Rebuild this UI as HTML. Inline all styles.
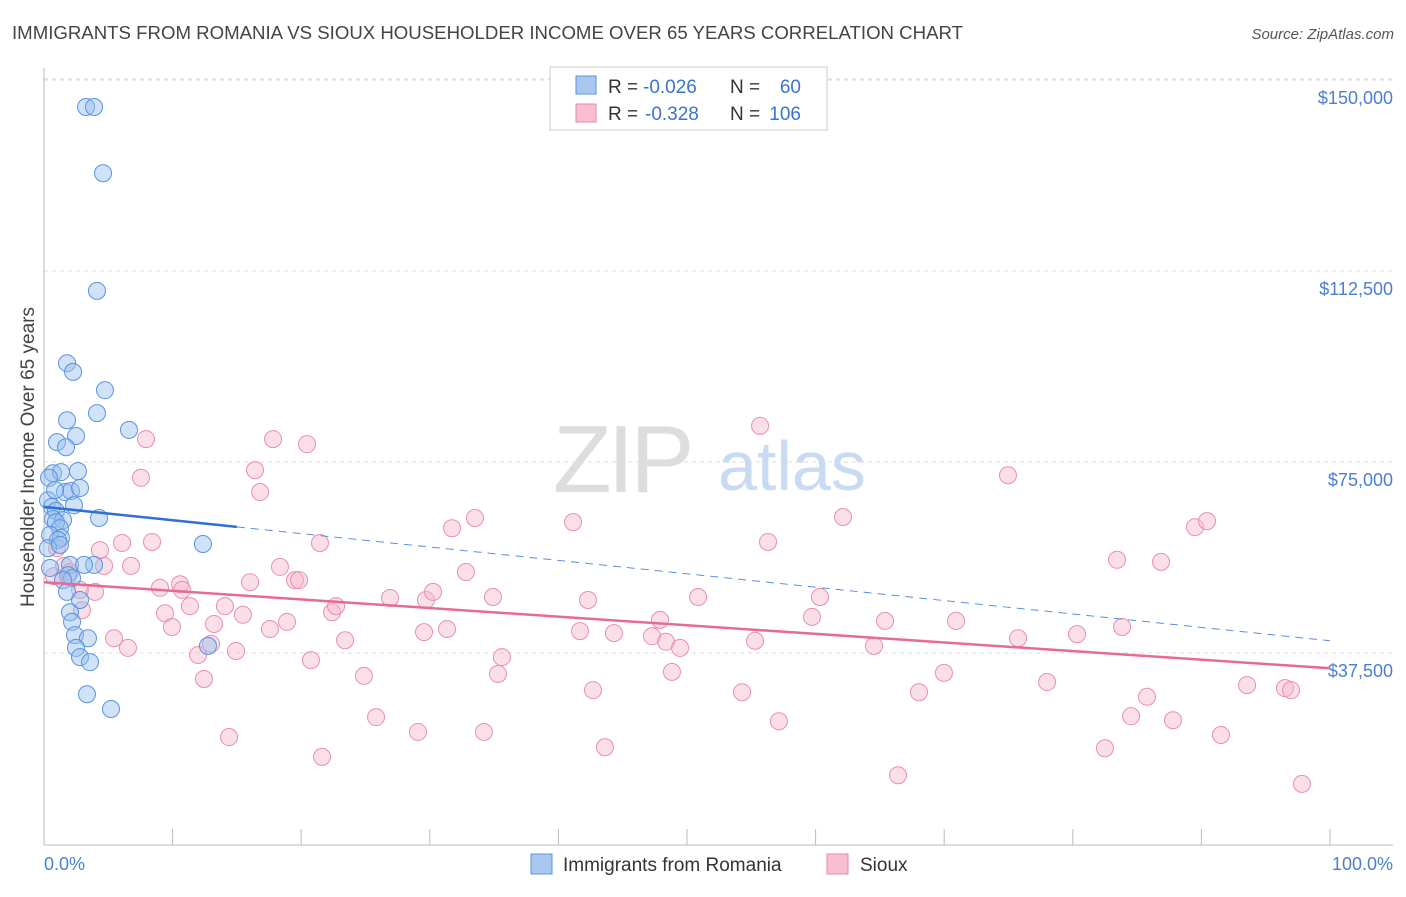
<!DOCTYPE html>
<html><head><meta charset="utf-8">
<style>
body{margin:0;background:#fff;font-family:"Liberation Sans",sans-serif;}
svg text{font-family:"Liberation Sans",sans-serif;}
</style></head>
<body>
<svg id="chart" width="1406" height="892" viewBox="0 0 1406 892" xmlns="http://www.w3.org/2000/svg">
<text x="12" y="39" font-size="18.5" fill="#444" textLength="951" lengthAdjust="spacingAndGlyphs">IMMIGRANTS FROM ROMANIA VS SIOUX HOUSEHOLDER INCOME OVER 65 YEARS CORRELATION CHART</text>
<text x="1394" y="39" font-size="15" fill="#555" text-anchor="end" font-style="italic">Source: ZipAtlas.com</text>
<g id="grid"></g>
<g>
<text x="553" y="492" font-size="96" fill="#ddd" font-family="Liberation Serif" letter-spacing="-4">ZIP</text>
<text x="718" y="490" font-size="70" fill="#c9dbf2">atlas</text>
</g>
<g id="marks"></g>
<text transform="translate(34,457) rotate(-90)" font-size="19" fill="#444" text-anchor="middle">Householder Income Over 65 years</text>
<text x="44" y="870" font-size="18" fill="#4a7fd4">0.0%</text>
<text x="1393" y="870" font-size="18" fill="#4a7fd4" text-anchor="end">100.0%</text>
<g>
<rect x="550" y="67" width="277" height="63" fill="#fff" stroke="#ccc"/>
<rect x="576" y="76" width="20" height="18" fill="#a9c8f0" stroke="#5b93dd"/>
<rect x="576" y="104" width="20" height="18" fill="#f7bfd0" stroke="#e78aa8"/>
<text x="608" y="93" font-size="19" fill="#333">R =</text>
<text x="643" y="93" font-size="19" fill="#3a73cf">-0.026</text>
<text x="730" y="93" font-size="19" fill="#333">N =</text>
<text x="801" y="93" font-size="19" fill="#3a73cf" text-anchor="end">60</text>
<text x="608" y="120" font-size="19" fill="#333">R =</text>
<text x="645" y="120" font-size="19" fill="#3a73cf">-0.328</text>
<text x="730" y="120" font-size="19" fill="#333">N =</text>
<text x="801" y="120" font-size="19" fill="#3a73cf" text-anchor="end">106</text>
</g>
<g>
<rect x="531" y="854" width="21" height="20" fill="#a9c8f0" stroke="#5b93dd"/>
<text x="563" y="871" font-size="19" fill="#333">Immigrants from Romania</text>
<rect x="827" y="854" width="21" height="20" fill="#f7bfd0" stroke="#e78aa8"/>
<text x="860" y="871" font-size="19" fill="#333">Sioux</text>
</g>
</svg>
<script>
const yTicks=[37500,75000,112500,150000];
const yTickLabels=["$37,500","$75,000","$112,500","$150,000"];
const xTicks=[0,10,20,30,40,50,60,70,80,90,100];
const blueX=[3.27,3.89,4.59,4.12,1.79,2.26,4.74,4.12,1.79,2.49,6.61,1.01,1.71,0.70,1.32,2.64,0.39,1.63,0.31,2.10,2.33,0.62,0.93,0.70,1.48,4.28,0.93,1.24,0.47,1.32,1.09,12.36,0.31,0.47,2.02,3.89,3.11,1.87,2.18,1.48,1.79,2.80,2.02,2.18,2.41,3.42,2.49,2.80,3.58,12.75,3.34,5.21,1.24,0.86,2.80];
const blueY=[144.7,144.7,131.7,108.6,94.4,92.7,89.1,84.6,83.2,80.1,81.3,78.9,77.9,72.8,73.0,73.2,71.9,69.1,67.5,69.3,66.5,66.2,65.4,63.8,63.6,64.0,63.2,62.0,60.7,60.1,59.7,58.9,58.1,54.2,54.8,54.8,54.8,52.8,52.2,51.8,49.5,47.9,45.5,43.6,41.0,40.4,38.5,36.7,35.7,38.9,29.4,26.5,58.7,69.5,69.9];
const pinkX=[1.01,0.78,1.56,2.02,2.80,3.97,2.95,4.35,4.67,5.44,6.53,6.07,6.77,7.54,7.93,8.40,9.02,9.41,9.95,10.58,10.73,11.35,11.98,12.44,12.99,13.22,14.07,14.39,14.93,15.47,16.02,16.41,16.80,17.57,17.81,18.35,18.90,19.52,19.83,20.45,20.76,21.46,21.62,22.40,22.71,23.41,24.88,25.82,26.91,29.08,29.55,29.70,30.25,31.34,31.73,32.81,33.51,34.21,34.91,35.30,35.61,41.14,41.68,42.30,42.69,43.62,44.32,47.28,47.90,48.37,48.83,49.46,50.86,54.28,55.29,55.68,56.30,57.15,59.72,60.34,62.13,64.54,65.40,66.41,68.04,70.92,69.98,74.96,75.74,78.00,80.33,82.50,83.44,83.83,84.53,85.77,86.86,87.79,89.50,90.44,91.52,93.55,96.50,96.97,97.82];
const pinkY=[58.1,52.6,54.6,53.4,49.9,49.5,45.9,57.7,54.6,40.4,38.5,59.1,54.6,71.9,79.5,59.3,50.3,45.3,42.6,51.0,49.9,46.7,37.1,32.4,39.3,43.2,46.7,21.0,37.9,45.0,51.4,73.4,69.1,42.2,79.5,54.4,43.6,51.8,51.8,78.5,36.1,59.1,17.1,45.5,46.7,40.0,33.0,24.9,48.3,22.0,41.6,47.9,49.5,42.2,62.0,53.4,64.0,22.0,48.5,33.4,36.7,63.2,41.8,47.9,30.2,19.0,41.4,40.8,44.0,39.7,33.8,38.5,48.5,29.8,39.9,82.1,59.3,24.1,44.6,48.5,64.2,38.9,43.8,13.5,29.8,43.8,33.6,72.4,40.4,31.8,41.2,18.8,55.8,42.6,25.1,28.9,55.4,24.3,62.2,63.4,21.4,31.2,30.6,30.2,11.8];
const blueTrend=[66.2,39.9];
const pinkTrend=[51.4,34.5];
const blueSolidEnd=15;

const NS="http://www.w3.org/2000/svg";
const X0=44,X1=1330,Y0=844,PXK=191/37.5;
function xs(p){return X0+(X1-X0)*p/100;}
function ys(k){return Y0-k*PXK;}
function mk(tag,attrs,parent){const e=document.createElementNS(NS,tag);for(const k in attrs)e.setAttribute(k,attrs[k]);parent.appendChild(e);return e;}
const gridG=document.getElementById('grid'),marksG=document.getElementById('marks');
yTicks.forEach((v,i)=>{
  const y=ys(v/1000);
  const l=mk('line',{x1:X0,x2:1393,y1:y,y2:y,stroke:'#ddd','stroke-dasharray':'4,4'},gridG);
  
  
  const t=mk('text',{x:1393,y:y+24,'font-size':18,fill:'#4a7fd4','text-anchor':'end'},gridG);
  t.textContent=yTickLabels[i];
  
  
});
const topGrid=mk('line',{x1:X0,x2:1393,y1:79,y2:79,stroke:'#ddd','stroke-dasharray':'4,4'},gridG);


const yAxisLine=mk('line',{x1:X0,x2:X0,y1:68,y2:845,stroke:'#bbb'},gridG);


const xAxisLine=mk('line',{x1:X0,x2:1393,y1:845,y2:845,stroke:'#bbb'},gridG);


xTicks.forEach(p=>{
  const t=mk('line',{x1:xs(p),x2:xs(p),y1:829,y2:845,stroke:'#bbb'},gridG);
  
  
});
pinkX.forEach((x,i)=>{
  const c=mk('circle',{cx:xs(x),cy:ys(pinkY[i]),r:8.5,fill:'rgba(247,185,204,0.45)',stroke:'#e98fae','stroke-width':1},marksG);
  
  
});
blueX.forEach((x,i)=>{
  const c=mk('circle',{cx:xs(x),cy:ys(blueY[i]),r:8.5,fill:'rgba(150,190,240,0.45)',stroke:'#5b93dd','stroke-width':1},marksG);
  
  
});
function tv(tr,p){return tr[0]+(tr[1]-tr[0])*p/100;}
const pinkLine=mk('line',{x1:xs(0),y1:ys(tv(pinkTrend,0)),x2:xs(100),y2:ys(tv(pinkTrend,100)),stroke:'#e56b95','stroke-width':2.5},marksG);


const blueLine=mk('line',{x1:xs(0),y1:ys(tv(blueTrend,0)),x2:xs(blueSolidEnd),y2:ys(tv(blueTrend,blueSolidEnd)),stroke:'#2f6fd6','stroke-width':2.5},marksG);


const blueDash=mk('line',{x1:xs(blueSolidEnd),y1:ys(tv(blueTrend,blueSolidEnd)),x2:xs(100),y2:ys(tv(blueTrend,100)),stroke:'#5b8fdd','stroke-width':1,'stroke-dasharray':'8,6'},marksG);


</script>
</body></html>
